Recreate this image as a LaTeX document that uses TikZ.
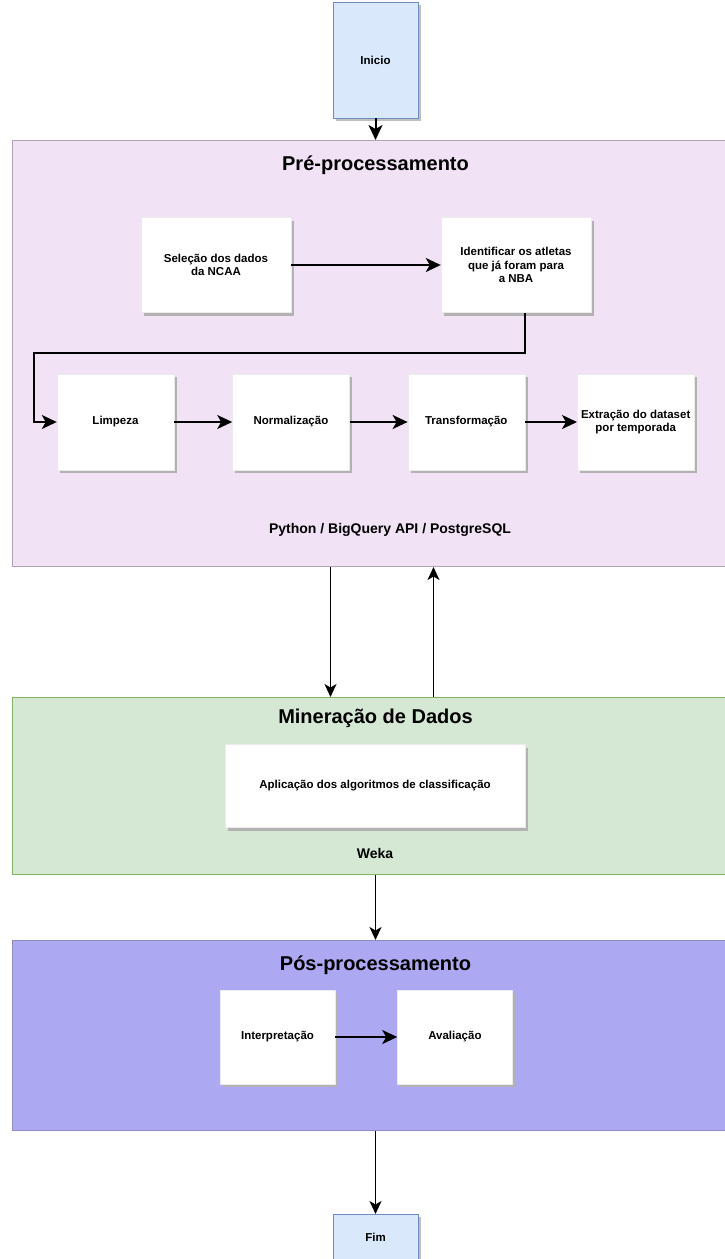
\documentclass[tikz,border=0pt]{standalone}
\usepackage{fontspec}
\setmainfont{Liberation Sans}
\usetikzlibrary{positioning, shadows, arrows.meta}

\definecolor{endfill}{HTML}{DAE8FC}
\definecolor{enddraw}{HTML}{6C8EBF}
\definecolor{prefill}{HTML}{F1E3F5}
\definecolor{predraw}{HTML}{B0A4B4}
\definecolor{minfill}{HTML}{D5E8D4}
\definecolor{mindraw}{HTML}{82B366}
\definecolor{posfill}{HTML}{ACA8F2}
\definecolor{posdraw}{HTML}{8E8AC4}

\tikzstyle{startstop} = [rectangle, minimum width=85pt, minimum height=116pt, text centered, draw=enddraw, fill=endfill, drop shadow={shadow xshift=3pt, shadow yshift=-3pt, fill=black!25, opacity=1}, font=\bfseries\fontsize{11.5}{13}\selectfont]
\tikzstyle{stage} = [rectangle, anchor=north west, minimum width=726pt, line width=1pt]
\tikzstyle{title} = [font=\bfseries\fontsize{20}{23}\selectfont]
\tikzstyle{tool} = [font=\bfseries\fontsize{14}{16}\selectfont]
\tikzstyle{process} = [rectangle, minimum width=117pt, minimum height=96pt, align=center, draw=black!8, fill=white, drop shadow={shadow xshift=3pt, shadow yshift=-3pt, fill=black!30, opacity=1}, font=\bfseries\fontsize{11.5}{13.5}\selectfont]
\tikzstyle{arrow} = [line width=2pt, -{Stealth[length=15pt, width=14pt, inset=4pt]}]
\tikzstyle{thinarrow} = [line width=1.5pt, -{Stealth[length=13pt, width=12pt, inset=3.5pt]}]

\begin{document}
\begin{tikzpicture}[x=1pt, y=-1pt]
\useasboundingbox (0,0) rectangle (724,1259);

\node (start) [startstop] at (375.5,60) {Inicio};

% pre-processamento
\node (pre) [stage, draw=predraw, fill=prefill, minimum height=426pt] at (12,140) {};
\node (pretitle) [title, below=12pt of pre.north] {Pré-processamento};
\node (sel) [process, minimum width=150pt, minimum height=95pt] at (216,265) {Seleção dos dados\\da NCAA};
\node (ident) [process, minimum width=150pt, minimum height=95pt] at (516,265) {Identificar os atletas\\que já foram para\\a NBA};
\node (limp) [process] at (115.5,422) {Limpeza};
\node (norm) [process, right=58pt of limp] {Normalização};
\node (transf) [process, right=58pt of norm] {Transformação};
\node (extr) [process, right=52pt of transf] {Extração do dataset\\por temporada};
\node (pretool) [tool] at (390,530) {Python / BigQuery API / PostgreSQL};
\coordinate (bend) at (34,353);

% mineracao
\node (min) [stage, draw=mindraw, fill=minfill, minimum height=177pt] at (12,697) {};
\node (mintitle) [title, below=8pt of min.north] {Mineração de Dados};
\node (alg) [process, minimum width=300pt, minimum height=83pt] at (375,786) {Aplicação dos algoritmos de classificação};
\node (mintool) [tool] at (375,853) {Weka};

% pos-processamento
\node (pos) [stage, draw=posdraw, fill=posfill, minimum height=190pt] at (12,940) {};
\node (postitle) [title, below=12pt of pos.north] {Pós-processamento};
\node (interp) [process, minimum width=115pt, minimum height=94pt] at (277.5,1037) {Interpretação};
\node (aval) [process, minimum width=115pt, minimum height=94pt, right=62pt of interp] {Avaliação};

\node (stop) [startstop, anchor=north, minimum height=47pt] at (375.5,1214) {Fim};

\draw [arrow] (start) -- (pre.north -| start);
\draw [arrow] (sel) -- (ident);
\draw [arrow] ([xshift=9pt]ident.south) |- (bend) |- (limp.west);
\draw [arrow] (limp) -- (norm);
\draw [arrow] (norm) -- (transf);
\draw [arrow] (transf) -- (extr);
\draw [thinarrow] ([xshift=-45pt]pre.south) -- ([xshift=-45pt]min.north);
\draw [thinarrow] ([xshift=58pt]min.north) -- ([xshift=58pt]pre.south);
\draw [thinarrow] (min.south -| start) -- (pos.north -| start);
\draw [arrow] (interp) -- (aval);
\draw [thinarrow] (pos.south -| start) -- (stop);

\end{tikzpicture}
\end{document}
